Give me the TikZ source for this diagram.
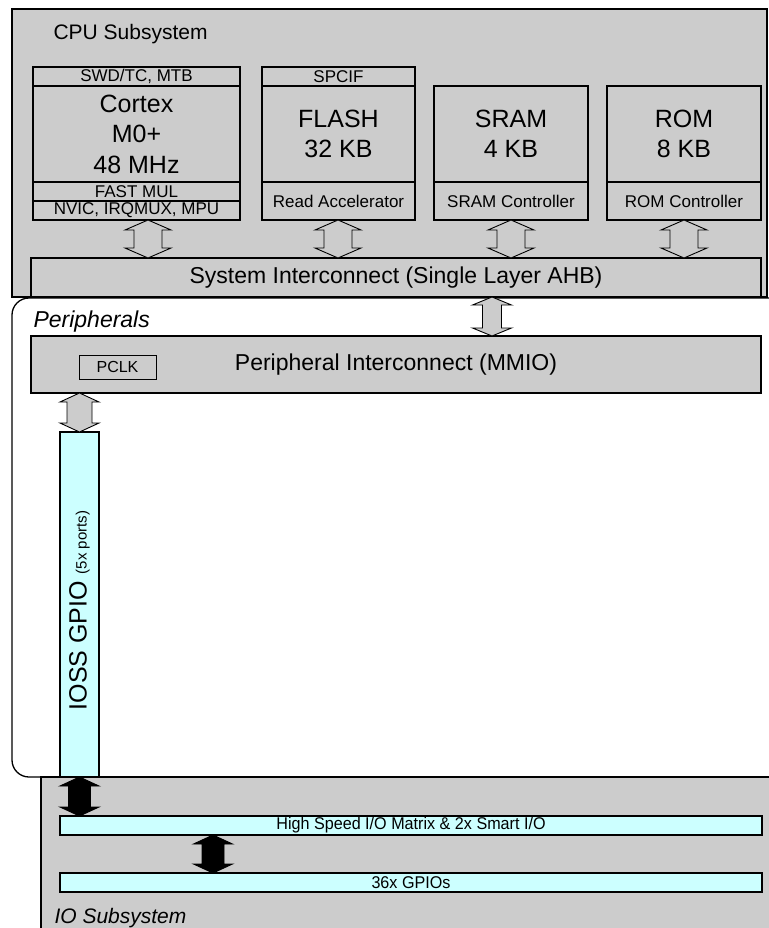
\documentclass[tikz,border=0pt]{standalone}
\usepackage{fontspec}
\setmainfont{Liberation Sans}
\newfontfamily\narrowfont[FakeStretch=0.95]{Liberation Sans}
\usetikzlibrary{positioning, calc}
\definecolor{blockgray}{HTML}{CCCCCC}
\definecolor{iocyan}{HTML}{CCFFFF}

% bus arrow between two stacked nodes: [opts]{upper}{lower}{x}{head half}{shaft half}{head length}
\newcommand{\busdbl}[7][]{%
  \draw[busarrow, #1] let \p1=(#2.south), \p2=(#3.north) in
    (#4pt,\y1) -- ({#4pt+#5pt},{\y1-#7pt}) -- ({#4pt+#6pt},{\y1-#7pt})
    -- ({#4pt+#6pt},{\y2+#7pt}) -- ({#4pt+#5pt},{\y2+#7pt}) -- (#4pt,\y2)
    -- ({#4pt-#5pt},{\y2+#7pt}) -- ({#4pt-#6pt},{\y2+#7pt})
    -- ({#4pt-#6pt},{\y1-#7pt}) -- ({#4pt-#5pt},{\y1-#7pt}) -- cycle;}

\begin{document}
\begin{tikzpicture}[
    x=1pt, y=-1pt,
    subsys/.style={draw, line width=1.3pt, fill=blockgray, anchor=north west, inner sep=0pt, outer sep=0pt},
    unit/.style={draw, line width=1.3pt, fill=blockgray, inner sep=0pt, outer sep=0pt, anchor=north west},
    stacked/.style={draw, line width=1.3pt, fill=blockgray, inner sep=0pt, outer sep=0pt, align=center},
    iobar/.style={draw, line width=1.3pt, fill=iocyan, inner sep=0pt, outer sep=0pt, anchor=north west},
    bigtxt/.style={font=\fontsize{25}{30.5}\selectfont},
    midtxt/.style={font=\fontsize{23}{27}\selectfont},
    smalltxt/.style={font=\fontsize{17}{20}\selectfont},
    padtxt/.style={font=\narrowfont\fontsize{17}{20}\selectfont},
    busarrow/.style={draw=black, line width=0.9pt, fill=blockgray},
    padarrow/.style={draw=black, line width=0.9pt, fill=black}
]
\useasboundingbox (0,0) rectangle (768,928);

% --- CPU SUBSYSTEM ---
\node (cpu) [subsys, minimum width=755pt, minimum height=288pt] at (12,9) {};
\node [anchor=base west, font=\fontsize{21}{25}\selectfont] at (50,40) {CPU Subsystem};

\node (swd) [unit, minimum width=207pt, minimum height=19pt, smalltxt] at (33,67) {SWD/TC, MTB};
\node (cortex) [stacked, below=0pt of swd, minimum width=207pt, minimum height=96pt, bigtxt] {Cortex\\M0+\\48 MHz};
\node (fastmul) [stacked, below=0pt of cortex, minimum width=207pt, minimum height=19pt, smalltxt] {FAST MUL};
\node (nvic) [stacked, below=0pt of fastmul, minimum width=207pt, minimum height=19pt, smalltxt] {NVIC, IRQMUX, MPU};

\node (spcif) [unit, minimum width=153pt, minimum height=19pt, smalltxt] at (262,67) {SPCIF};
\node (flash) [stacked, below=0pt of spcif, minimum width=153pt, minimum height=96pt, bigtxt] {FLASH\\32 KB};
\node (readacc) [stacked, below=0pt of flash, minimum width=153pt, minimum height=38pt, smalltxt] {Read Accelerator};

\node (sram) [unit, minimum width=154pt, minimum height=96pt, bigtxt, align=center] at (434,86) {SRAM\\4 KB};
\node (sramctl) [stacked, below=0pt of sram, minimum width=154pt, minimum height=38pt, smalltxt] {SRAM Controller};

\node (rom) [unit, minimum width=154pt, minimum height=96pt, bigtxt, align=center] at (607,86) {ROM\\8 KB};
\node (romctl) [stacked, below=0pt of rom, minimum width=154pt, minimum height=38pt, smalltxt] {ROM Controller};

\node (sysic) [unit, minimum width=730pt, minimum height=39pt, midtxt] at (31,258) {System Interconnect (Single Layer AHB)};

% --- PERIPHERALS ---
\node (periph) [draw, line width=1.3pt, fill=white, rounded corners=17pt, anchor=north west, inner sep=0pt, outer sep=0pt, minimum width=790pt, minimum height=479pt] at (12,298) {};
\node [anchor=base west, font=\itshape\fontsize{23}{27}\selectfont] at (30,327) {Peripherals};

\node (pic) [unit, minimum width=730pt, minimum height=57pt, midtxt] at (31,336) {Peripheral Interconnect (MMIO)};
\node (pclk) [unit, line width=0.9pt, minimum width=77pt, minimum height=24pt, font=\fontsize{16}{19}\selectfont] at (79,355) {PCLK};

\node (ioss) [iobar, minimum width=39pt, minimum height=345pt] at (60,432) {};
\node [rotate=90, font=\fontsize{25}{30}\selectfont] at ($(ioss.center)+(0,6)$) {IOSS GPIO {\fontsize{15}{18}\selectfont(5x ports)}};

% --- IO SUBSYSTEM ---
\node (iosub) [subsys, minimum width=760pt, minimum height=160pt] at (41,777) {};
\node [anchor=base west, font=\itshape\fontsize{21}{25}\selectfont] at (51,923) {IO Subsystem};

\node (hsio) [iobar, minimum width=702pt, minimum height=19pt, padtxt] at (60,816) {High Speed I/O Matrix \& 2x Smart I/O};
\node (gpios) [iobar, minimum width=702pt, minimum height=19pt, padtxt] at (60,873) {36x GPIOs};

% --- CONNECTIONS ---

% 1. CPU blocks <-> system interconnect
\busdbl{nvic}{sysic}{148}{23}{14}{10}
\busdbl{readacc}{sysic}{338}{23}{14}{10}
\busdbl{sramctl}{sysic}{511}{23}{14}{10}
\busdbl{romctl}{sysic}{684}{23}{14}{10}

% 2. System interconnect <-> peripheral interconnect
\busdbl{sysic}{pic}{492}{19.5}{9.5}{8}

% 3. Peripheral interconnect <-> IOSS GPIO
\busdbl{pic}{ioss}{79.5}{19.5}{12.5}{9}

% 4. IOSS GPIO -> HSIOM -> pins
\busdbl[padarrow]{ioss}{hsio}{79.5}{19.5}{11}{9}
\busdbl[padarrow]{hsio}{gpios}{213}{19.5}{11}{9}

\end{tikzpicture}
\end{document}
